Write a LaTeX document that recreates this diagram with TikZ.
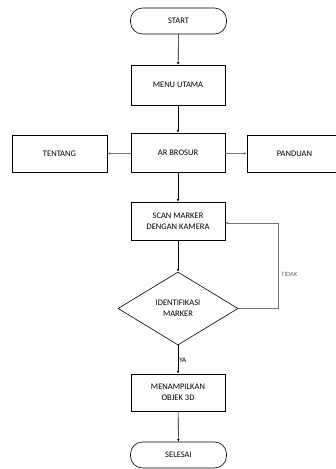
\documentclass[tikz,border=0pt]{standalone}
\usepackage{fontspec}
\setmainfont{Carlito}
\usetikzlibrary{shapes.geometric,arrows.meta}
\begin{document}
\begin{tikzpicture}[x=1pt,y=-1pt,
  every node/.style={font=\fontsize{8.5}{11}\selectfont, text=black},
  box/.style={draw, line width=0.6pt, minimum width=94pt, inner sep=0pt, align=center},
  term/.style={draw, line width=0.6pt, rounded corners=12pt, minimum width=96pt, minimum height=26pt, inner sep=0pt},
  dec/.style={draw, diamond, line width=0.6pt, minimum width=120pt, minimum height=73pt, aspect=1.64, inner sep=0pt, align=center},
  arr/.style={line width=0.6pt, -{Latex[length=2.5pt,width=2.5pt]}},
  garr/.style={draw=black!55, line width=1.2pt, -{Latex[length=2.5pt,width=2.5pt]}}
]
\useasboundingbox (0,0) rectangle (336,469);
\node[term] (start) at (178.5,21) {START};
\node[box, minimum height=40pt] (menu) at (178,85) {MENU UTAMA};
\node[box, minimum height=39pt] (ar) at (178,152.5) {AR BROSUR};
\node[box, minimum width=95pt, minimum height=37pt] (tentang) at (59.5,153.5) {TENTANG};
\node[box, minimum width=95pt, minimum height=37pt] (panduan) at (294.5,153.5) {PANDUAN};
\node[box, minimum height=38pt] (scan) at (178,221) {SCAN MARKER\\DENGAN KAMERA};
\node[dec] (id) at (178,308.5) {IDENTIFIKASI\\MARKER};
\node[box, minimum height=37pt] (tampil) at (178,392.5) {MENAMPILKAN\\OBJEK 3D};
\node[term] (selesai) at (178.5,455) {SELESAI};
\coordinate (c1) at (278,308.5);
\coordinate (c2) at (278,223);
\draw[arr] (start) -- (menu);
\draw[arr] (menu) -- (ar);
\draw[garr] (ar.west |- tentang.center) -- (tentang.east);
\draw[garr] (ar.east |- panduan.center) -- (panduan.west);
\draw[arr] (ar) -- (scan);
\draw[arr] (scan) -- (id);
\draw[arr] (id) -- node[right, pos=0.52, inner sep=1pt, font=\fontsize{7}{8}\selectfont] {YA} (tampil);
\draw[arr] (tampil) -- (selesai);
\draw[draw=black!55, line width=1.2pt] (id.east) -- (c1);
\draw[draw=black!55, line width=0.8pt, -{Latex[length=2.5pt,width=2.5pt]}] (c1) -- node[right, pos=0.4, inner sep=3pt, text=black!60, font=\fontsize{6.5}{8}\selectfont] {TIDAK} (c2) -- (scan.east |- c2);
\end{tikzpicture}
\end{document}
